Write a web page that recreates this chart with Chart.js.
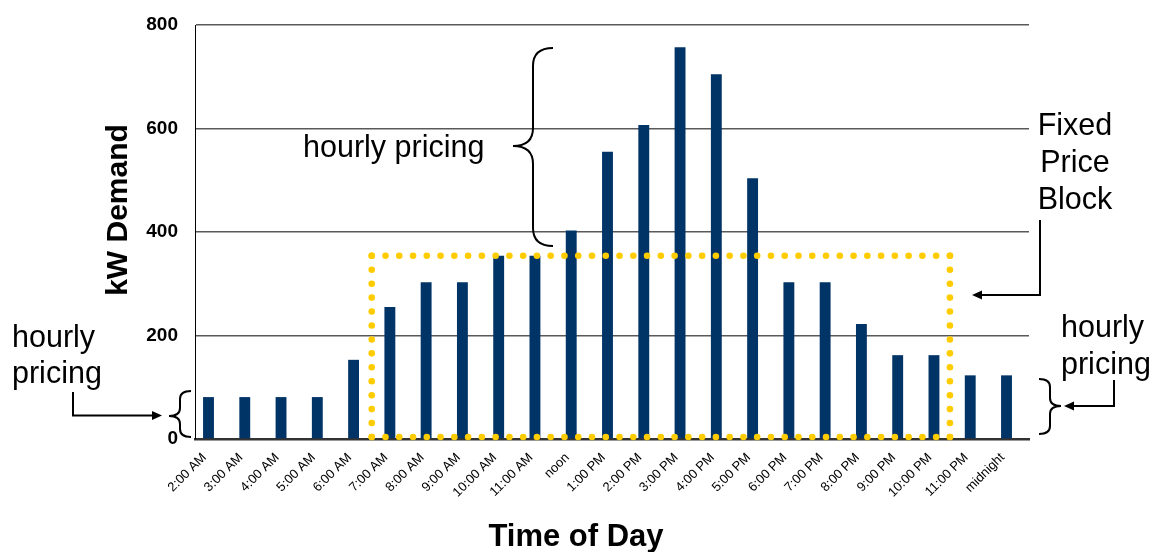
<!DOCTYPE html>
<html>
<head>
<meta charset="utf-8">
<script src="https://cdn.jsdelivr.net/npm/chart.js@4/dist/chart.umd.min.js"></script>
<style>
  html, body { margin: 0; padding: 0; background: #ffffff; }
  #wrap { width: 1153px; height: 552px; position: relative; }
</style>
</head>
<body>
<div id="wrap"><canvas id="demand" width="1153" height="552"></canvas></div>
<script>
// Hourly demand profile
const timeLabels = ['2:00 AM', '3:00 AM', '4:00 AM', '5:00 AM', '6:00 AM', '7:00 AM', '8:00 AM',
  '9:00 AM', '10:00 AM', '11:00 AM', 'noon', '1:00 PM', '2:00 PM', '3:00 PM', '4:00 PM',
  '5:00 PM', '6:00 PM', '7:00 PM', '8:00 PM', '9:00 PM', '10:00 PM', '11:00 PM', 'midnight'];
const demandKW = [81, 81, 81, 81, 153, 255, 303, 303, 354, 354, 403, 555, 607, 757, 705,
  504, 303, 303, 222, 162, 162, 123, 123];
const yTickValues = [0, 200, 400, 600, 800];

// Fixed price block: flat level over the daytime hours
const fixedBlockKW = 354;
const fixedBlockFirst = '7:00 AM';
const fixedBlockLast = '10:00 PM';

const FONT = "'Liberation Sans', Arial, Helvetica, sans-serif";

function drawBrace(ctx, xEnd, xSpine, xTip, yTop, yMid, yBot, r) {
  ctx.beginPath();
  ctx.moveTo(xEnd, yTop);
  ctx.quadraticCurveTo(xSpine, yTop, xSpine, yTop + r);
  ctx.lineTo(xSpine, yMid - r);
  ctx.quadraticCurveTo(xSpine, yMid, xTip, yMid);
  ctx.quadraticCurveTo(xSpine, yMid, xSpine, yMid + r);
  ctx.lineTo(xSpine, yBot - r);
  ctx.quadraticCurveTo(xSpine, yBot, xEnd, yBot);
  ctx.stroke();
}

function drawElbowArrow(ctx, pts, head, halfW) {
  const n = pts.length;
  const [tx, ty] = pts[n - 1];
  const [px, py] = pts[n - 2];
  const len = Math.hypot(tx - px, ty - py);
  const ux = (tx - px) / len, uy = (ty - py) / len;
  ctx.beginPath();
  ctx.moveTo(pts[0][0], pts[0][1]);
  for (let i = 1; i < n - 1; i++) ctx.lineTo(pts[i][0], pts[i][1]);
  ctx.lineTo(tx - ux * head, ty - uy * head);
  ctx.stroke();
  ctx.beginPath();
  ctx.moveTo(tx, ty);
  ctx.lineTo(tx - ux * head - uy * halfW, ty - uy * head + ux * halfW);
  ctx.lineTo(tx - ux * head + uy * halfW, ty - uy * head - ux * halfW);
  ctx.closePath();
  ctx.fill();
}

function dottedSide(ctx, x0, y0, x1, y1, step, radius) {
  const len = Math.hypot(x1 - x0, y1 - y0);
  const n = Math.max(1, Math.round(len / step));
  for (let k = 0; k <= n; k++) {
    const t = k / n;
    ctx.beginPath();
    ctx.arc(x0 + (x1 - x0) * t, y0 + (y1 - y0) * t, radius, 0, Math.PI * 2);
    ctx.fill();
  }
}

const pricingNotes = {
  id: 'pricingNotes',
  afterDatasetsDraw(chart) {
    const { ctx, scales: { x, y } } = chart;
    const i0 = timeLabels.indexOf(fixedBlockFirst);
    const i1 = timeLabels.indexOf(fixedBlockLast);
    const left = x.getPixelForValue(i0 - 0.5);
    const right = x.getPixelForValue(i1 + 0.44);
    const top = y.getPixelForValue(fixedBlockKW);
    const bottom = y.getPixelForValue(0) - 2;
    ctx.save();
    ctx.fillStyle = '#FFCC00';
    dottedSide(ctx, left, top, right, top, 13.9, 3.3);
    dottedSide(ctx, right, top, right, bottom, 13.9, 3.3);
    dottedSide(ctx, left, bottom, right, bottom, 13.9, 3.3);
    dottedSide(ctx, left, top, left, bottom, 13.9, 3.3);
    ctx.restore();
  },
  afterDraw(chart) {
    const { ctx } = chart;
    ctx.save();
    ctx.fillStyle = '#000';
    ctx.strokeStyle = '#000';
    ctx.lineWidth = 2;
    ctx.lineJoin = 'miter';

    // Axis titles
    ctx.font = `bold 31px ${FONT}`;
    ctx.textAlign = 'center';
    ctx.textBaseline = 'alphabetic';
    ctx.fillText('Time of Day', 576, 546);
    ctx.font = `bold 30px ${FONT}`;
    ctx.save();
    ctx.translate(127, 210);
    ctx.rotate(-Math.PI / 2);
    ctx.fillText('kW Demand', 0, 0);
    ctx.restore();

    // Callout texts
    ctx.font = `30.5px ${FONT}`;
    ctx.textAlign = 'left';
    ctx.fillText('hourly pricing', 303, 157);
    ctx.fillText('hourly', 12, 347);
    ctx.fillText('pricing', 12, 383);
    ctx.fillText('hourly', 1061, 337);
    ctx.fillText('pricing', 1061, 374);
    ctx.textAlign = 'center';
    ctx.fillText('Fixed', 1075, 135);
    ctx.fillText('Price', 1075, 172);
    ctx.fillText('Block', 1075, 209);

    // Braces
    drawBrace(ctx, 553, 533, 513, 48, 146, 246, 18);
    drawBrace(ctx, 191, 180, 169, 391, 416, 437, 8);
    drawBrace(ctx, 1039, 1050, 1061, 379, 406, 434, 8);

    // Arrows
    drawElbowArrow(ctx, [[73, 392], [73, 415.5], [162, 415.5]], 10, 4.5);
    drawElbowArrow(ctx, [[1114, 380], [1114, 406], [1064, 406]], 10, 4.5);
    drawElbowArrow(ctx, [[1040, 220], [1040, 295], [972, 295]], 10, 4.5);
    ctx.restore();
  }
};

new Chart(document.getElementById('demand'), {
  type: 'bar',
  data: {
    datasets: [{
      data: demandKW.map((v, i) => ({ x: i, y: v })),
      backgroundColor: '#003366',
      borderWidth: 0,
      barPercentage: 0.3,
      categoryPercentage: 1
    }]
  },
  options: {
    responsive: false,
    animation: false,
    devicePixelRatio: 1,
    layout: { padding: { top: 25, right: 124, left: 0, bottom: 0 } },
    plugins: { legend: { display: false }, tooltip: { enabled: false } },
    scales: {
      x: {
        type: 'linear',
        min: -0.372,
        max: 22.62,
        offset: false,
        grid: { display: false, drawTicks: false },
        border: { display: true, color: '#333333', width: 2.5 },
        afterBuildTicks: s => { s.ticks = timeLabels.map((_, i) => ({ value: i })); },
        afterFit: s => { s.height = 113; },
        ticks: {
          autoSkip: false,
          minRotation: 45,
          maxRotation: 45,
          padding: 11,
          labelOffset: -4,
          color: '#000',
          font: { family: FONT, size: 13 },
          callback: v => timeLabels[v]
        }
      },
      y: {
        min: 0,
        max: 800,
        afterBuildTicks: s => { s.ticks = yTickValues.map(v => ({ value: v })); },
        afterFit: s => { s.width = 195; s.paddingTop = 10; s.paddingBottom = 10; },
        grid: { color: '#595959', lineWidth: 1.5, drawTicks: false },
        border: { display: true, color: '#000', width: 1 },
        ticks: {
          padding: 17,
          color: '#000',
          font: { family: FONT, size: 19, weight: 'bold' }
        }
      }
    }
  },
  plugins: [pricingNotes]
});
</script>
</body>
</html>
